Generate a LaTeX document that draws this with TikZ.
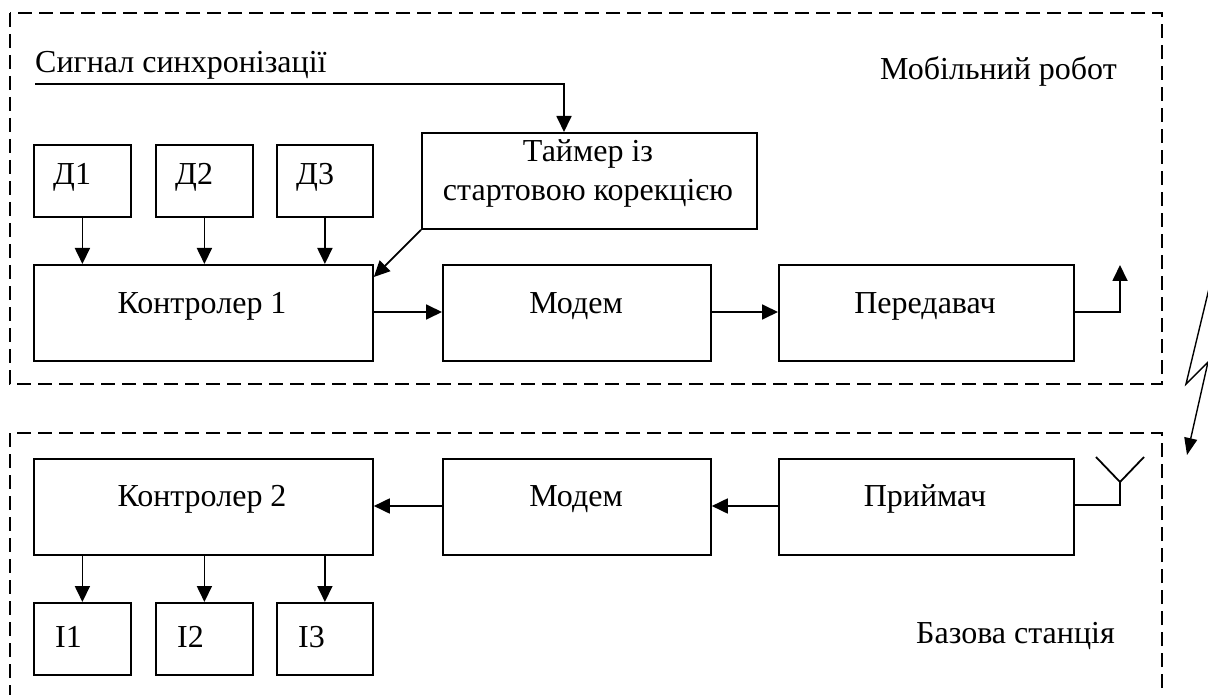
\documentclass[tikz,border=0pt]{standalone}
\usepackage{fontspec}
\setmainfont{Liberation Serif}
\usetikzlibrary{arrows.meta,calc}
\begin{document}
\begin{tikzpicture}[x=1pt,y=-1pt,
  blk/.style={draw, line width=1.8pt, inner sep=0pt, anchor=north west},
  txt/.style={inner sep=0pt, font=\fontsize{32pt}{40pt}\selectfont},
  arr/.style={line width=1.8pt, -{Triangle[length=16pt,width=15pt]}},
  ln/.style={line width=1.8pt},
  frame/.style={line width=1.8pt, dash pattern=on 14pt off 7pt}]
\useasboundingbox (0,0) rectangle (1208,695);
% frames
\draw[frame] (10,13) rectangle (1162,384);
\draw[frame] (10,433) rectangle (1162,730);
% boxes top
\node[blk, minimum width=97pt, minimum height=72pt] (d1) at (33,144) {};
\node[blk, minimum width=97pt, minimum height=72pt] (d2) at (155,144) {};
\node[blk, minimum width=96pt, minimum height=72pt] (d3) at (276,144) {};
\node[blk, minimum width=335pt, minimum height=96pt] (timer) at (421,132) {};
\node[blk, minimum width=339pt, minimum height=96pt] (k1) at (33,264) {};
\node[blk, minimum width=268pt, minimum height=96pt] (m1) at (442,264) {};
\node[blk, minimum width=295pt, minimum height=96pt] (tx) at (778,264) {};
% boxes bottom
\node[blk, minimum width=339pt, minimum height=96pt] (k2) at (33,458) {};
\node[blk, minimum width=268pt, minimum height=96pt] (m2) at (442,458) {};
\node[blk, minimum width=295pt, minimum height=96pt] (rx) at (778,458) {};
\node[blk, minimum width=97pt, minimum height=72pt] (i1) at (33,602) {};
\node[blk, minimum width=97pt, minimum height=72pt] (i2) at (155,602) {};
\node[blk, minimum width=96pt, minimum height=72pt] (i3) at (276,602) {};
% texts
\node[txt, anchor=west] (tsync) at (35,65) {Сигнал синхронізації};
\node[txt, anchor=east] (tmob) at (1117,71) {Мобільний робот};
\node[txt, anchor=east] (tbase) at (1115,636) {Базова станція};
\node[txt, anchor=west] (td1) at (53,177) {Д1};
\node[txt, anchor=west] (td2) at (175,177) {Д2};
\node[txt, anchor=west] (td3) at (296,177) {Д3};
\node[txt] (tt1) at (588,154) {Таймер із};
\node[txt] (tt2) at (588,193) {стартовою корекцією};
\node[txt] (tk1) at (202,306) {Контролер 1};
\node[txt] (tm1) at (576,306) {Модем};
\node[txt] (ttx) at (925,306) {Передавач};
\node[txt] (tk2) at (202,499) {Контролер 2};
\node[txt] (tm2) at (576,499) {Модем};
\node[txt] (trx) at (925,499) {Приймач};
\node[txt, anchor=west] (ti1) at (55,637) {I1};
\node[txt, anchor=west] (ti2) at (177,637) {I2};
\node[txt, anchor=west] (ti3) at (298,637) {I3};
% connectors top
\coordinate (s) at (35,84);
\coordinate (sx) at (564,84);
\draw[arr] (s) -- (sx) -- (sx |- timer.north);
\draw[arr] (d1.south) -- (d1.south |- k1.north);
\draw[arr] (d2.south) -- (d2.south |- k1.north);
\draw[arr] (d3.south) -- (d3.south |- k1.north);
\draw[arr] (timer.south west) -- ($(k1.north east)+(0,13)$);
\draw[arr] (k1.east |- 0,312) -- (m1.west |- 0,312);
\draw[arr] (m1.east |- 0,312) -- (tx.west |- 0,312);
\coordinate (txo) at (1120,265);
\draw[arr] (tx.east |- 0,312) -| (txo);
% connectors bottom
\draw[arr] (rx.west |- 0,506) -- (m2.east |- 0,506);
\draw[arr] (m2.west |- 0,506) -- (k2.east |- 0,506);
\draw[arr] (k2.south -| i1.north) -- (i1.north);
\draw[arr] (k2.south -| i2.north) -- (i2.north);
\draw[arr] (k2.south -| i3.north) -- (i3.north);
% antenna
\coordinate (ant) at (1120,482);
\coordinate (antl) at (1096,457);
\coordinate (antr) at (1144,457);
\draw[ln] (rx.east |- 0,505) -| (ant);
\draw[ln] (antl) -- (ant) -- (antr);
% lightning
\coordinate (z0) at (1213,272);
\coordinate (z1) at (1186,384);
\coordinate (z2) at (1208,362);
\coordinate (z3) at (1187,455);
\draw[line width=1.4pt, line join=miter, -{Triangle[length=17pt,width=13pt]}] (z0) -- (z1) -- (z2) -- (z3);
\end{tikzpicture}
\end{document}
